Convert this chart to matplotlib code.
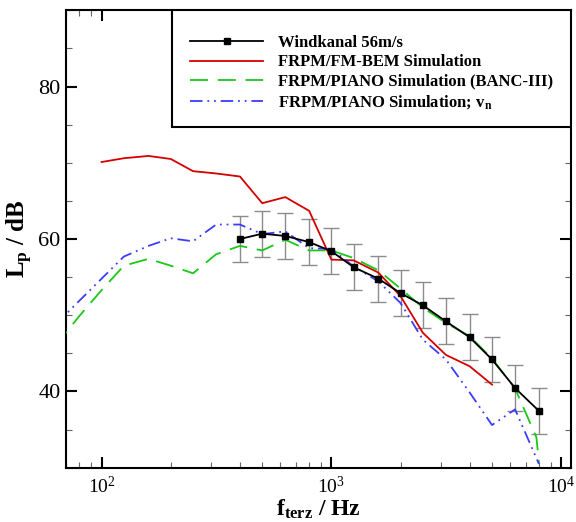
import matplotlib
matplotlib.use("Agg")
import matplotlib.pyplot as plt
from matplotlib.patches import Rectangle
from matplotlib.ticker import MultipleLocator, LogLocator

plt.rcParams["font.family"] = ["Liberation Serif", "DejaVu Serif"]
plt.rcParams["mathtext.fontset"] = "custom"
plt.rcParams["mathtext.rm"] = "Liberation Serif"
plt.rcParams["mathtext.default"] = "regular"
plt.rcParams["lines.scale_dashes"] = False

# wind tunnel measurement (third octave bands)
f_exp = [400, 500, 630, 800, 1000, 1250, 1600, 2000, 2500, 3150, 4000, 5000, 6300, 8000]
lp_exp = [60.0, 60.7, 60.4, 59.6, 58.4, 56.3, 54.8, 52.9, 51.3, 49.2, 47.1, 44.2, 40.45, 37.45]
err_exp = 3.0

# FRPM/FM-BEM
f_bem = [100, 125, 160, 200, 250, 315, 400, 500, 630, 800, 1000, 1250, 1600, 2000, 2500, 3150, 4000, 5000]
lp_bem = [70.1, 70.6, 70.9, 70.5, 68.9, 68.6, 68.2, 64.7, 65.5, 63.7, 57.3, 57.2, 55.6, 52.5, 47.7, 44.8, 43.3, 40.9]

# FRPM/PIANO (BANC-III)
f_banc = [63, 80, 100, 125, 160, 200, 250, 315, 400, 500, 630, 800, 1000, 1250, 1600, 2000, 2500, 3150,
          4000, 5000, 6300, 7800, 8000]
lp_banc = [46.0, 49.9, 53.3, 56.5, 57.4, 56.5, 55.5, 58.0, 59.1, 58.5, 59.9, 58.5, 58.5, 57.5, 55.9, 53.5,
           51.0, 49.0, 47.25, 44.3, 40.4, 34.0, 30.7]

# FRPM/PIANO v_n
f_vn = [63, 80, 100, 125, 160, 200, 250, 315, 400, 500, 630, 800, 1000, 1250, 1600, 2000, 2500, 3150,
        4000, 5000, 6300, 8000]
lp_vn = [48.8, 51.9, 54.8, 57.7, 59.1, 60.1, 59.7, 61.9, 61.9, 60.65, 61.0, 58.8, 58.7, 56.4, 54.45, 51.6,
         46.8, 44.2, 39.85, 35.6, 37.65, 30.5]

labels = ["Windkanal 56m/s", "FRPM/FM-BEM Simulation",
          "FRPM/PIANO Simulation (BANC-III)", "FRPM/PIANO Simulation; v$_{n}$"]

fig = plt.figure(figsize=(5.76, 5.22), dpi=100)
ax = fig.add_axes([0.1146, 0.104, 0.8762, 0.8762])

ax.errorbar(f_exp, lp_exp, yerr=err_exp, fmt="none", ecolor="#8c8c8c",
            elinewidth=1.0, capsize=5.5, capthick=1.0, zorder=2)
l_bem, = ax.plot(f_bem, lp_bem, color="#d40000", lw=1.3, zorder=3)
l_banc, = ax.plot(f_banc, lp_banc, color="#19c819", lw=1.3, ls=(0, (13, 7)), zorder=3)
l_vn, = ax.plot(f_vn, lp_vn, color="#3c3cff", lw=1.3,
                ls=(0, (9, 3.5, 1.3, 3.5, 1.3, 3.5)), zorder=3)
l_exp, = ax.plot(f_exp, lp_exp, color="black", lw=1.3, marker="s", ms=5, zorder=4)

ax.set_xscale("log")
ax.set_xlim(70, 11000)
ax.set_ylim(30, 90)
ax.yaxis.set_major_locator(MultipleLocator(20))
ax.yaxis.set_minor_locator(MultipleLocator(5))
ax.xaxis.set_minor_locator(LogLocator(base=10, subs=range(2, 10)))

ax.tick_params(which="both", direction="in", top=True, right=True)
ax.tick_params(which="major", length=8, width=1.5, color="black")
ax.tick_params(which="minor", length=4.5, width=0.8, color="#666666")
ax.tick_params(axis="y", labelsize=16, pad=4)
ax.tick_params(axis="x", labelsize=14, pad=6)
for s in ax.spines.values():
    s.set_linewidth(1.5)

ax.set_xlabel("f$_{terz}$ / Hz", fontsize=17, fontweight="bold", labelpad=0)
ax.set_ylabel("L$_{p}$ / dB", fontsize=18, fontweight="bold", labelpad=2)

# legend box in the upper right corner
ax.add_patch(Rectangle((0.2094, 0.7455), 0.7906, 0.2545, transform=ax.transAxes,
                       facecolor="white", edgecolor="black", lw=1.5, zorder=5))
leg = ax.legend([l_exp, l_bem, l_banc, l_vn], labels, loc="upper left",
                bbox_to_anchor=(0.2457, 0.946), frameon=False, borderpad=0,
                borderaxespad=0, labelspacing=0.2, handlelength=4.4,
                handletextpad=0.9, numpoints=1, prop={"weight": "bold", "size": 12})
leg.set_zorder(6)

fig.savefig("out.png", dpi=100)
